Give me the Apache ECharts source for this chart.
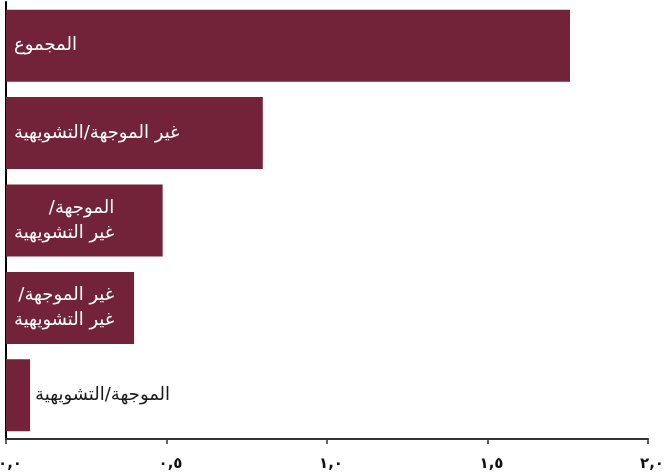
<!DOCTYPE html>
<html>
<head>
<meta charset="utf-8">
<script src="https://cdn.jsdelivr.net/npm/echarts@6/dist/echarts.min.js"></script>
<style>html,body{margin:0;padding:0;background:#fff}#c{width:664px;height:475px}</style>
</head>
<body>
<div id="c"></div>
<script>
// Categories (top to bottom); each entry = label lines
var categories = [
  ['المجموع'],
  ['غير الموجهة/التشويهية'],
  ['الموجهة/', 'غير التشويهية'],
  ['غير الموجهة/', 'غير التشويهية'],
  ['الموجهة/التشويهية']
];
var values = [1.757, 0.80, 0.488, 0.399, 0.075];
var tickLabels = ['٠,٠', '٠,٥', '١,٠', '١,٥', '٢,٠'];

var RLM = '\u200F';
var fontFam = '"DejaVu Sans", "Liberation Sans", Arial, sans-serif';
var labelSize = 18;

function fmtLine(l) { return l + RLM; }
function lineText(lines) { return lines.map(fmtLine).join('\n'); }
var measureCtx = document.createElement('canvas').getContext('2d');
measureCtx.font = labelSize + 'px ' + fontFam;
function blockWidth(lines) {
  var w = 0;
  lines.forEach(function (l) { w = Math.max(w, measureCtx.measureText(fmtLine(l)).width); });
  return w;
}

var chart = echarts.init(document.getElementById('c'), null, {renderer: 'canvas'});
var barColor = '#722339';

var data = values.map(function (v, i) {
  var inside = i < values.length - 1;
  return {
    value: v,
    label: inside ? {
      position: [8 + blockWidth(categories[i]), '50%'],
      align: 'right', verticalAlign: 'middle', color: '#ffffff'
    } : {
      position: 'right', color: '#1a1a1a', distance: 5
    }
  };
});

chart.setOption({
  animation: false,
  grid: {left: 6, right: 16, top: 2, bottom: 36, containLabel: false, outerBoundsMode: 'none'},
  xAxis: {
    type: 'value', min: 0, max: 2, interval: 0.5,
    axisLine: {show: true, lineStyle: {color: '#333', width: 2}},
    axisTick: {show: true, length: 5, lineStyle: {color: '#333', width: 1.5}},
    splitLine: {show: false},
    axisLabel: {
      margin: 18, color: '#111', fontSize: 15, fontWeight: 'bold', fontFamily: fontFam,
      padding: [0, 0, 0, 8],
      formatter: function (v) { return tickLabels[Math.round(v / 0.5)]; }
    }
  },
  yAxis: {
    type: 'category', data: categories.map(function (c) { return c.join(' '); }), inverse: true,
    axisLine: {show: true, lineStyle: {color: '#000', width: 2}},
    axisTick: {show: false},
    axisLabel: {show: false}
  },
  series: [{
    type: 'bar',
    data: data,
    barCategoryGap: '17.6%',
    itemStyle: {color: barColor},
    label: {
      show: true, fontSize: labelSize, fontFamily: fontFam, lineHeight: 25,
      formatter: function (p) { return lineText(categories[p.dataIndex]); }
    }
  }]
});
</script>
</body>
</html>
